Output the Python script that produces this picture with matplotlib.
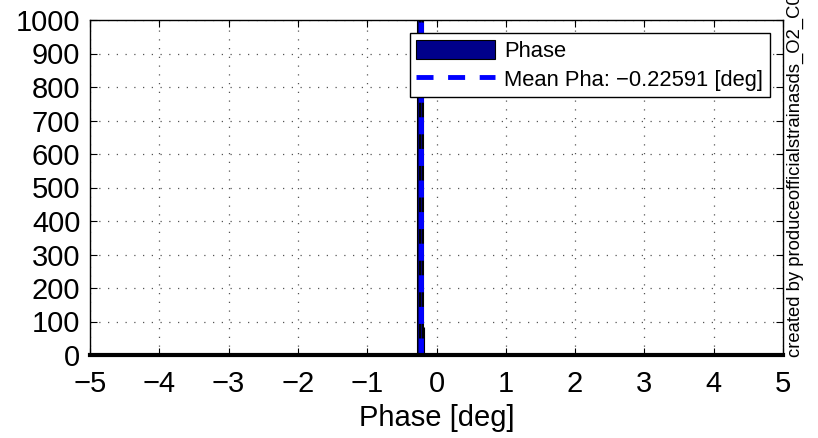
import numpy as np
import matplotlib
matplotlib.use("Agg")
import matplotlib.pyplot as plt

# histogram bins (deg) and counts
bin_edges = [-0.275, -0.255, -0.235, -0.215, -0.195, -0.187, -0.183]
counts = [1400, 4200, 3600, 1900, 0, 84]
mean_pha = -0.22591

xticks = [-5, -4, -3, -2, -1, 0, 1, 2, 3, 4, 5]
yticks = [0, 100, 200, 300, 400, 500, 600, 700, 800, 900, 1000]

plt.rcParams["font.family"] = ["Liberation Sans", "DejaVu Sans"]

fig = plt.figure(figsize=(8.18, 4.38), dpi=100)
ax = fig.add_axes([90 / 818, 1 - 355 / 438, 693 / 818, 335 / 438])

ax.hist(bin_edges[:-1], bins=bin_edges, weights=counts,
        facecolor="#00008B", edgecolor="black", linewidth=0.8, label="Phase")
ax.axvline(mean_pha, color="blue", linestyle=(0, (3.5, 3)), linewidth=3.5,
           label="Mean Pha: \u22120.22591 [deg]")

ax.set_xlim(-5, 5)
ax.set_ylim(0, 1000)
ax.set_xticks(xticks)
ax.set_yticks(yticks)
ax.set_xticklabels([str(t).replace("-", "\u2212") for t in xticks])
ax.tick_params(direction="in", top=True, right=True, labelsize=21,
               length=5, width=0.8)
ax.tick_params(axis="x", pad=11)
ax.tick_params(axis="y", pad=7)
ax.grid(True, linestyle=(0, (1, 6)), color="#555555", linewidth=0.9)
for s in ax.spines.values():
    s.set_linewidth(1.0)
ax.spines["bottom"].set_linewidth(3.0)
ax.set_xlabel("Phase [deg]", fontsize=21, labelpad=4)

leg = ax.legend(loc="upper right", fontsize=15.8,
                fancybox=False, framealpha=1, edgecolor="black",
                handlelength=3.6, handleheight=1.0, borderpad=0.3,
                labelspacing=0.28, handletextpad=0.4, borderaxespad=0.6)
leg.get_frame().set_linewidth(1.0)

fig.text(787 / 818, 1 - 357 / 438, "created by produceofficialstrainasds_O2_C01",
         rotation=90, ha="left", va="bottom", fontsize=13.3)

fig.savefig("out.png", dpi=100)
